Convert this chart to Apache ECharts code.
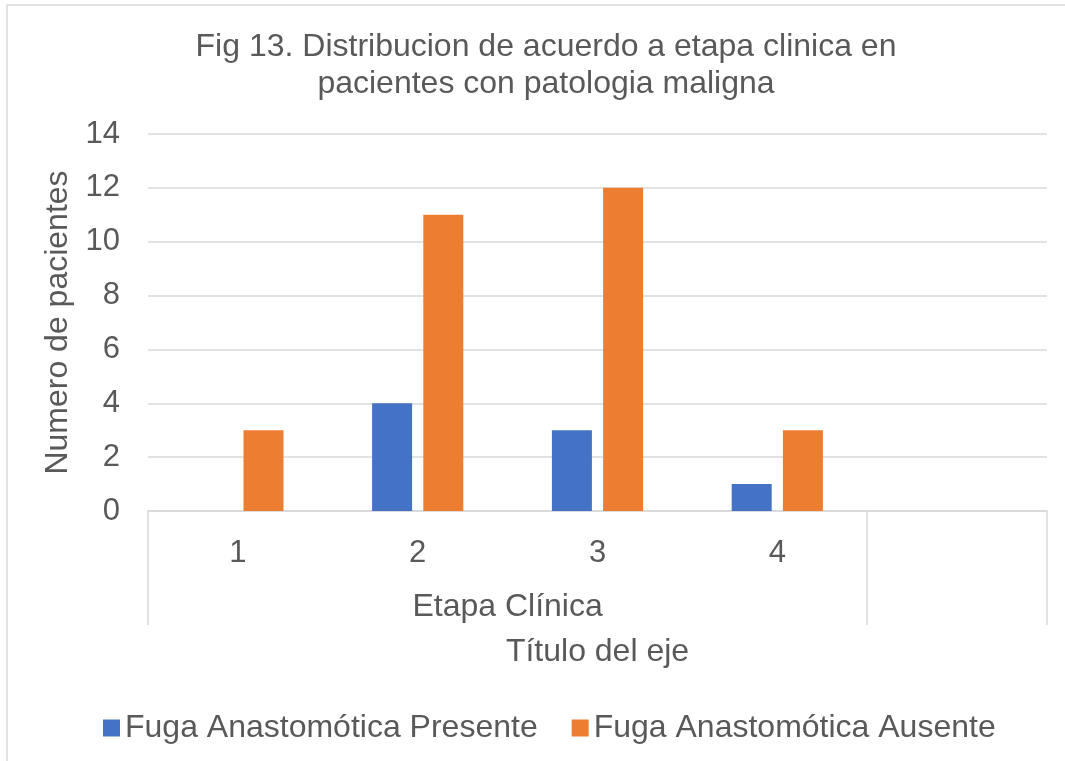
<!DOCTYPE html>
<html>
<head>
<meta charset="utf-8">
<script src="https://cdn.jsdelivr.net/npm/echarts@6/dist/echarts.min.js"></script>
<style>
  html, body { margin: 0; padding: 0; background: #ffffff; }
  #chart { width: 1065px; height: 761px; }
</style>
</head>
<body>
<div id="chart"></div>
<script>
// Clinical stage categories (last slot is an empty category)
const categories = ['1', '2', '3', '4', ''];
const groupLabel = 'Etapa Clínica';
const seriesNames = ['Fuga Anastomótica Presente', 'Fuga Anastomótica Ausente'];
const presente = [null, 4, 3, 1, null];
const ausente = [3, 11, 12, 3, null];
const yTicks = { min: 0, max: 14, interval: 2 };

const textColor = '#595959';
const gridColor = '#d9d9d9';
const fontFamily = '"Liberation Sans", Arial, sans-serif';

const chart = echarts.init(document.getElementById('chart'), null, { renderer: 'canvas' });

chart.setOption({
  backgroundColor: '#ffffff',
  animation: false,
  textStyle: { fontFamily: fontFamily, color: textColor },
  title: {
    text: 'Fig 13. Distribucion de acuerdo a etapa clinica en\npacientes con patologia maligna',
    left: 541,
    top: 24,
    textAlign: 'center',
    textStyle: { fontSize: 32, fontWeight: 'normal', color: textColor, lineHeight: 37, fontFamily: fontFamily }
  },
  legend: {
    left: 98,
    top: 707,
    icon: 'rect',
    itemWidth: 17,
    itemHeight: 17,
    itemGap: 34,
    textStyle: { fontSize: 32, color: textColor, fontFamily: fontFamily }
  },
  grid: { left: 148, right: 18, top: 134, bottom: 250, containLabel: false },
  xAxis: [
    {
      type: 'category',
      data: categories,
      position: 'bottom',
      axisLine: { show: true, lineStyle: { color: gridColor, width: 1.5 } },
      axisTick: { show: false },
      axisLabel: { fontSize: 31, color: textColor, margin: 27 },
      splitLine: { show: false }
    },
    {
      // Second level of the category axis: group spans stages 1-4
      type: 'value',
      min: 0,
      max: categories.length,
      position: 'bottom',
      axisLine: { show: false },
      axisTick: { show: true, customValues: [0, 4, 5], length: 114, lineStyle: { color: gridColor, width: 1.5 } },
      axisLabel: { customValues: [2], formatter: () => groupLabel, fontSize: 32, color: textColor, margin: 80 },
      splitLine: { show: false },
      name: 'Título del eje',
      nameLocation: 'middle',
      nameGap: 125,
      nameTextStyle: { fontSize: 32, color: textColor }
    }
  ],
  yAxis: {
    type: 'value',
    min: yTicks.min,
    max: yTicks.max,
    interval: yTicks.interval,
    axisLine: { show: false },
    axisTick: { show: false },
    axisLabel: { fontSize: 31, color: textColor, margin: 28 },
    splitLine: { lineStyle: { color: gridColor, width: 1.5 } },
    name: 'Numero de pacientes',
    nameLocation: 'middle',
    nameRotate: 90,
    nameGap: 69,
    nameTextStyle: { fontSize: 32, color: textColor }
  },
  series: [
    {
      name: seriesNames[0],
      type: 'bar',
      xAxisIndex: 0,
      data: presente,
      barWidth: 40,
      barGap: '28%',
      itemStyle: { color: '#4472C4' }
    },
    {
      name: seriesNames[1],
      type: 'bar',
      xAxisIndex: 0,
      data: ausente,
      barWidth: 40,
      barGap: '28%',
      itemStyle: { color: '#ED7D31' }
    }
  ],
  graphic: [
    {
      type: 'rect',
      shape: { x: 7, y: 5, width: 1080, height: 780 },
      style: { fill: null, stroke: gridColor, lineWidth: 1.5 },
      silent: true,
      z: -1
    }
  ]
});
</script>
</body>
</html>
